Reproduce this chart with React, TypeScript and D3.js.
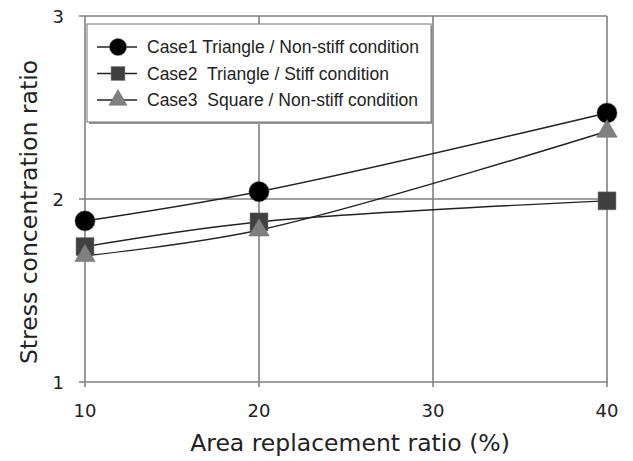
import React, { useEffect, useRef } from 'react'
import * as d3 from 'd3'

const xTicks = [10, 20, 30, 40]
const yTicks = [1, 2, 3]
const ratios = [10, 20, 40]
const case1 = [1.88, 2.04, 2.47]
const case2 = [1.74, 1.875, 1.99]
const case3 = [1.69, 1.83, 2.37]
const seriesNames = [
  'Case1 Triangle / Non-stiff condition',
  'Case2  Triangle / Stiff condition',
  'Case3  Square / Non-stiff condition',
]

const App = () => {
  const ref = useRef<SVGSVGElement>(null)

  useEffect(() => {
    const svg = d3.select(ref.current)
    svg.selectAll('*').remove()

    const left = 85
    const right = 607
    const top = 16
    const bottom = 382

    const x = d3.scaleLinear().domain([10, 40]).range([left, right])
    const y = d3.scaleLinear().domain([1, 3]).range([bottom, top])

    const grid = '#808080'
    const g = svg.append('g')

    // grid lines
    g.selectAll('.vgrid')
      .data(xTicks)
      .enter()
      .append('line')
      .attr('x1', d => x(d))
      .attr('x2', d => x(d))
      .attr('y1', top)
      .attr('y2', bottom + 5)
      .attr('stroke', grid)
      .attr('stroke-width', 1.6)
    g.selectAll('.hgrid')
      .data(yTicks)
      .enter()
      .append('line')
      .attr('x1', left - 6)
      .attr('x2', right)
      .attr('y1', d => y(d))
      .attr('y2', d => y(d))
      .attr('stroke', grid)
      .attr('stroke-width', 1.6)

    // tick labels
    g.selectAll('.ylab')
      .data(yTicks)
      .enter()
      .append('text')
      .attr('x', left - 21)
      .attr('y', d => y(d) + 7)
      .attr('text-anchor', 'end')
      .style('font-family', 'DejaVu Sans')
      .style('font-size', '18px')
      .attr('fill', '#222')
      .text(d => d)
    g.selectAll('.xlab')
      .data(xTicks)
      .enter()
      .append('text')
      .attr('x', d => x(d))
      .attr('y', bottom + 35)
      .attr('text-anchor', 'middle')
      .style('font-family', 'DejaVu Sans')
      .style('font-size', '18px')
      .attr('fill', '#222')
      .text(d => d)

    // axis titles
    g.append('text')
      .attr('x', 350)
      .attr('y', 451)
      .attr('text-anchor', 'middle')
      .style('font-family', 'DejaVu Sans')
      .style('font-size', '23.5px')
      .attr('fill', '#222')
      .text('Area replacement ratio (%)')
    g.append('text')
      .attr('transform', `translate(37,212) rotate(-90)`)
      .attr('text-anchor', 'middle')
      .style('font-family', 'DejaVu Sans')
      .style('font-size', '23.5px')
      .attr('fill', '#222')
      .text('Stress concentration ratio')

    const series = [
      { values: case1, shape: d3.symbolCircle, size: 320, lsize: 230, fill: '#000' },
      { values: case2, shape: d3.symbolSquare, size: 320, lsize: 190, fill: '#404040' },
      { values: case3, shape: d3.symbolTriangle, size: 180, lsize: 140, fill: '#808080' },
    ]

    const line = d3
      .line<number>()
      .x((d, i) => x(ratios[i]))
      .y(d => y(d))
      .curve(d3.curveCatmullRom.alpha(0.5))

    series.forEach(s => {
      g.append('path')
        .attr('d', line(s.values))
        .attr('fill', 'none')
        .attr('stroke', '#222')
        .attr('stroke-width', 1.4)
    })
    series.forEach(s => {
      g.selectAll(null)
        .data(s.values)
        .enter()
        .append('path')
        .attr('d', d3.symbol().type(s.shape).size(s.size)())
        .attr('transform', (d, i) => `translate(${x(ratios[i])},${y(d)})`)
        .attr('fill', s.fill)
        .attr('stroke', '#666')
        .attr('stroke-width', 0.5)
    })

    // legend
    const lg = g.append('g')
    lg.append('rect')
      .attr('x', 89)
      .attr('y', 26)
      .attr('width', 345)
      .attr('height', 98)
      .attr('fill', '#999')
    lg.append('rect')
      .attr('x', 87)
      .attr('y', 24)
      .attr('width', 344)
      .attr('height', 98)
      .attr('fill', '#fff')
      .attr('stroke', '#777')
      .attr('stroke-width', 1)
    series.forEach((s, i) => {
      const cy = 47 + i * 26.5
      lg.append('line')
        .attr('x1', 97)
        .attr('x2', 137)
        .attr('y1', cy)
        .attr('y2', cy)
        .attr('stroke', '#222')
        .attr('stroke-width', 1.4)
      lg.append('path')
        .attr('d', d3.symbol().type(s.shape).size(s.lsize)())
        .attr('transform', `translate(118,${cy})`)
        .attr('fill', s.fill)
        .attr('stroke', '#666')
        .attr('stroke-width', 0.5)
      lg.append('text')
        .attr('x', 147)
        .attr('y', cy + 6)
        .style('font-family', 'Liberation Sans')
        .style('font-size', '17.5px')
        .style('white-space', 'pre')
        .attr('fill', '#222')
        .text(seriesNames[i])
    })
  }, [])

  return (
    <svg
      ref={ref}
      width={633}
      height={461}
      style={{ position: 'absolute', left: 0, top: 0, background: '#fff' }}
    />
  )
}

export default App
